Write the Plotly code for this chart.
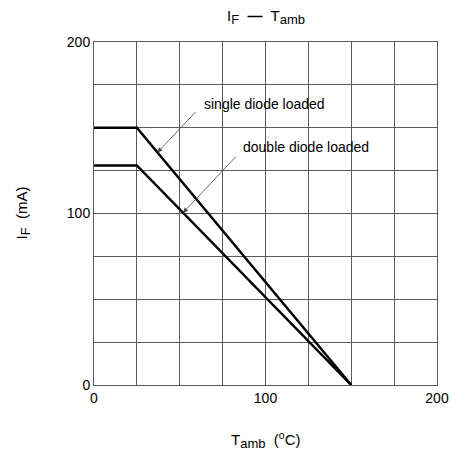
import plotly.graph_objects as go

# Data
t_single = [0, 25, 150]
if_single = [150, 150, 0]
t_double = [0, 25, 150]
if_double = [128, 128, 0]

x_ticks = [0, 100, 200]
y_ticks = [0, 100, 200]

FONT = "Liberation Sans, Arial, sans-serif"


def sub(s, size=13):
    return f"<sub><span style='font-size:{size}px'>{s}</span></sub>"


fig = go.Figure()
fig.add_trace(go.Scatter(x=t_single, y=if_single, mode="lines",
                         line=dict(color="black", width=2.5), showlegend=False))
fig.add_trace(go.Scatter(x=t_double, y=if_double, mode="lines",
                         line=dict(color="black", width=2.5), showlegend=False))

axis_common = dict(
    range=[0, 200], showgrid=True, gridcolor="#5a5a5a", gridwidth=1,
    showline=True, linecolor="#5a5a5a", linewidth=1, mirror=True,
    zeroline=False, ticks="", automargin=False,
    tickfont=dict(family=FONT, size=14, color="black"),
)
fig.update_xaxes(**axis_common, tickvals=list(range(0, 201, 25)),
                 ticktext=[str(v) if v in x_ticks else "" for v in range(0, 201, 25)])
fig.update_yaxes(**axis_common, tickvals=list(range(0, 201, 25)),
                 ticktext=[str(v) if v in y_ticks else "" for v in range(0, 201, 25)])

annotations = [
    # arrows
    dict(x=37, y=135.6, ax=60, ay=160, xref="x", yref="y", axref="x", ayref="y",
         showarrow=True, arrowhead=2, arrowsize=1.2, arrowwidth=0.8, arrowcolor="#444444", text=""),
    dict(x=52, y=100.5, ax=83.5, ay=134, xref="x", yref="y", axref="x", ayref="y",
         showarrow=True, arrowhead=2, arrowsize=1.2, arrowwidth=0.8, arrowcolor="#444444", text=""),
    # labels
    dict(x=63, y=164, xref="x", yref="y", text="single diode loaded", showarrow=False,
         xanchor="left", yanchor="middle", font=dict(family=FONT, size=14, color="black")),
    dict(x=85.5, y=138.5, xref="x", yref="y", text="double diode loaded", showarrow=False,
         xanchor="left", yanchor="middle", font=dict(family=FONT, size=14, color="black")),
    # axis titles
    dict(x=0.5, y=-55 / 343, xref="paper", yref="paper",
         text="T" + sub("amb") + "  (<sup>o</sup>C)", showarrow=False,
         xanchor="center", yanchor="middle", font=dict(family=FONT, size=15, color="black")),
    dict(x=-72 / 343, y=0.5, xref="paper", yref="paper",
         text="I" + sub("F") + "  (mA)", showarrow=False, textangle=-90,
         xanchor="center", yanchor="middle", font=dict(family=FONT, size=15, color="black")),
    # title
    dict(x=0.5, y=1 + 25 / 343, xref="paper", yref="paper",
         text="I" + sub("F") + "  <b>—</b>  T" + sub("amb"), showarrow=False,
         xanchor="center", yanchor="middle", font=dict(family=FONT, size=15, color="black")),
]

fig.update_layout(
    width=452, height=466,
    margin=dict(l=94, r=15, t=42, b=81),
    plot_bgcolor="white", paper_bgcolor="white",
    annotations=annotations,
    font=dict(family=FONT, color="black"),
)

fig.write_html(
    "out.html",
    config={"displayModeBar": False, "responsive": False},
    post_script="document.body.style.margin='0';document.body.style.overflow='hidden';",
)
